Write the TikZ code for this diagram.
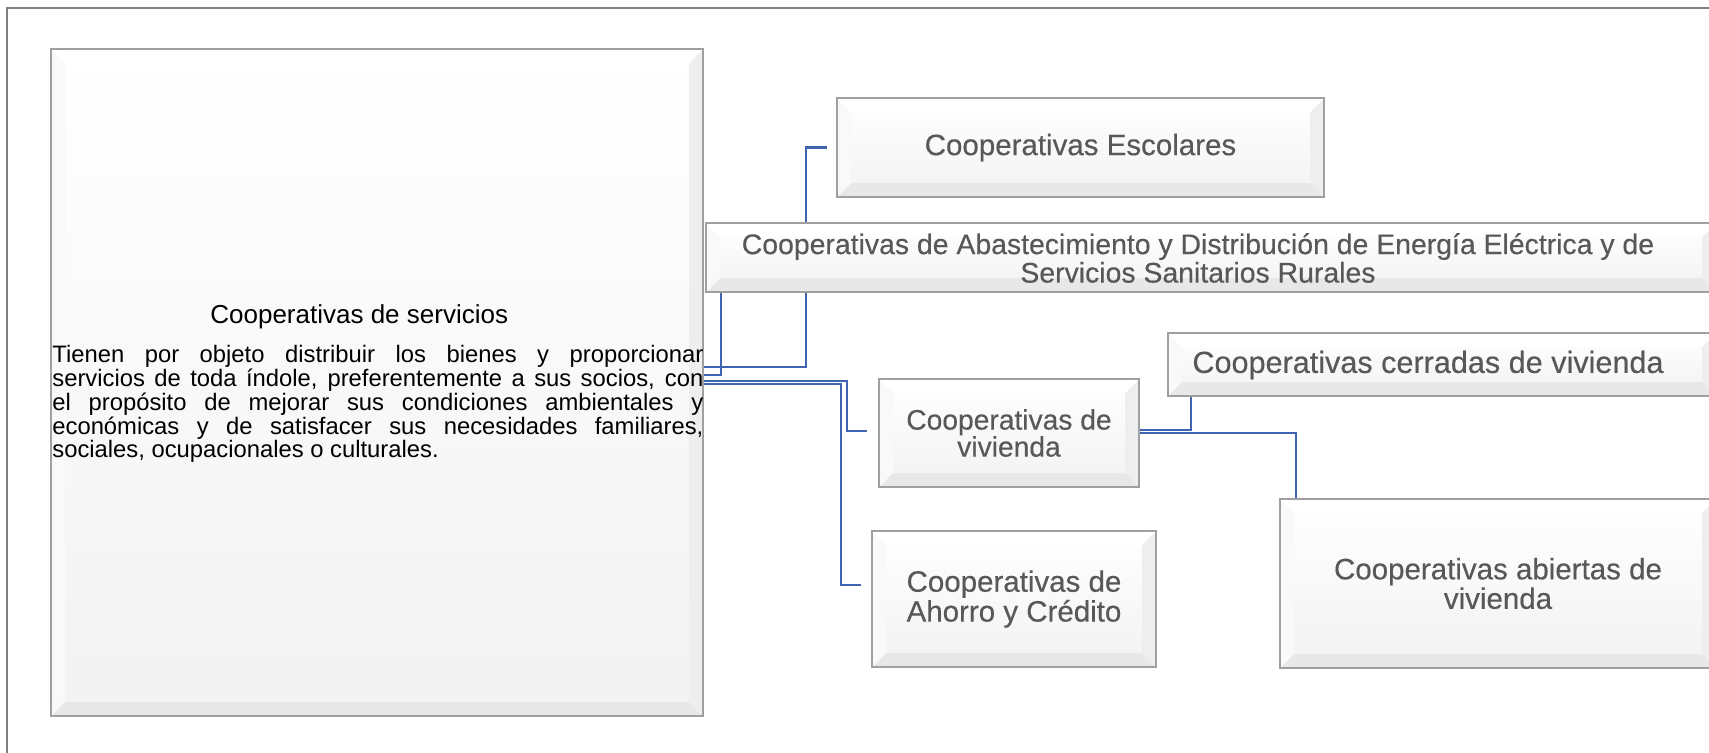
\documentclass[tikz,border=0pt]{standalone}
\usepackage{fontspec}
\setmainfont{Liberation Sans}
\newfontface\boxface{Liberation Sans}[FakeBold=0.35]
\usetikzlibrary{calc,backgrounds}
\hyphenpenalty=10000

\definecolor{linkblue}{RGB}{63,100,175}
\definecolor{boxline}{RGB}{160,160,160}
\definecolor{boxtext}{RGB}{88,88,88}
\definecolor{framegray}{RGB}{128,128,128}

\tikzset{
  bevelbox/.style={draw=boxline, line width=1pt, inner sep=0pt,
    top color=white, bottom color=gray!10,
    text=boxtext, align=center, font=\boxface\fontsize{14.75}{13.5}\selectfont,
    path picture={
      \path (path picture bounding box.south west) coordinate (bsw)
            (path picture bounding box.north east) coordinate (bne)
            (bsw -| bne) coordinate (bse)
            (bsw |- bne) coordinate (bnw);
      \fill[gray!18] (bsw) -- ([shift={(7pt,7pt)}]bsw) -- ([shift={(-7pt,7pt)}]bse) -- (bse) -- cycle;
      \fill[gray!13] (bse) -- ([shift={(-7pt,7pt)}]bse) -- ([shift={(-7pt,-7pt)}]bne) -- (bne) -- cycle;
      \fill[gray!5] (bsw) -- ([shift={(7pt,7pt)}]bsw) -- ([shift={(7pt,-7pt)}]bnw) -- (bnw) -- cycle;
      \fill[white] (bnw) -- ([shift={(7pt,-7pt)}]bnw) -- ([shift={(-7pt,-7pt)}]bne) -- (bne) -- cycle;
    }},
  boxlabel/.style={text=boxtext, align=center, inner sep=0pt,
    font=\boxface\fontsize{14.75}{13}\selectfont},
  link/.style={draw=linkblue, line width=1.35pt},
}

\begin{document}
\begin{tikzpicture}[x=0.5pt, y=-0.5pt]
\useasboundingbox (0,0) rectangle (1709,752);

% marco
\draw[framegray, line width=0.75pt] (7,780) -- (7,8) -- (1740,8);

% caja principal
\node[bevelbox, minimum width=326pt, minimum height=333.5pt] (serv) at (377,382.5) {};
\node[anchor=base west, inner sep=0pt, font=\fontsize{13}{15}\selectfont] (servtit) at (210,323) {Cooperativas de servicios};
\node[anchor=north west, inner sep=0pt, text width=325.5pt, align=justify,
  font=\fontsize{11.9}{11.9}\selectfont] (servtxt) at (52,345)
  {Tienen por objeto distribuir los bienes y proporcionar\linebreak
   servicios de toda índole, preferentemente a sus socios, con\linebreak
   el propósito de mejorar sus condiciones ambientales y\linebreak
   económicas y de satisfacer sus necesidades familiares,\linebreak
   sociales, ocupacionales o culturales.};

% ramas
\node[bevelbox, minimum width=243.5pt, minimum height=49.5pt] (esc) at (1080.5,147.5) {Cooperativas Escolares};
\node[bevelbox, minimum width=505pt, minimum height=34.5pt] (abast) at (1211,257.5) {};
\node[boxlabel, font=\boxface\fontsize{14.2}{13}\selectfont] (abasttxt) at (1198,258) {Cooperativas de Abastecimiento y Distribución de Energía Eléctrica y de\\Servicios Sanitarios Rurales};
\node[bevelbox, minimum width=130pt, minimum height=54pt, font=\boxface\fontsize{14.1}{13.5}\selectfont] (viv) at (1009,433) {Cooperativas de\\vivienda};
\node[bevelbox, minimum width=142pt, minimum height=68pt] (aho) at (1014,599) {Cooperativas de\\Ahorro y Crédito};
\node[bevelbox, minimum width=274pt, minimum height=31.5pt] (cerr) at (1442,364.5) {};
\node[boxlabel, font=\boxface\fontsize{15.3}{13}\selectfont] (cerrtxt) at (1428,365) {Cooperativas cerradas de vivienda};
\node[bevelbox, minimum width=218pt, minimum height=84.5pt] (abi) at (1498,583.5) {Cooperativas abiertas de\\vivienda};

% conectores
\begin{scope}[on background layer]
\draw[link] ($(serv.east)+(0,-15.5)$) -| ($(esc.west)+(-30,0)$) -- ($(esc.west)+(-9,0)$);
\draw[link] ($(serv.east)+(0,-7.5)$) -| ($(abast.south west)+(16,0)$);
\draw[link] ($(serv.east)+(0,-1.5)$) -| ($(viv.west)+(-31,-2)$) -- ($(viv.west)+(-11,-2)$);
\draw[link] ($(serv.east)+(0,1.5)$) -| ($(aho.west)+(-30,-14)$) -- ($(aho.west)+(-10,-14)$);
\draw[link] ($(viv.east)+(0,-3)$) -| ($(cerr.south west)+(24,0)$);
\draw[link] (viv.east) -| ($(abi.north west)+(17,0)$);
\end{scope}

\end{tikzpicture}
\end{document}
